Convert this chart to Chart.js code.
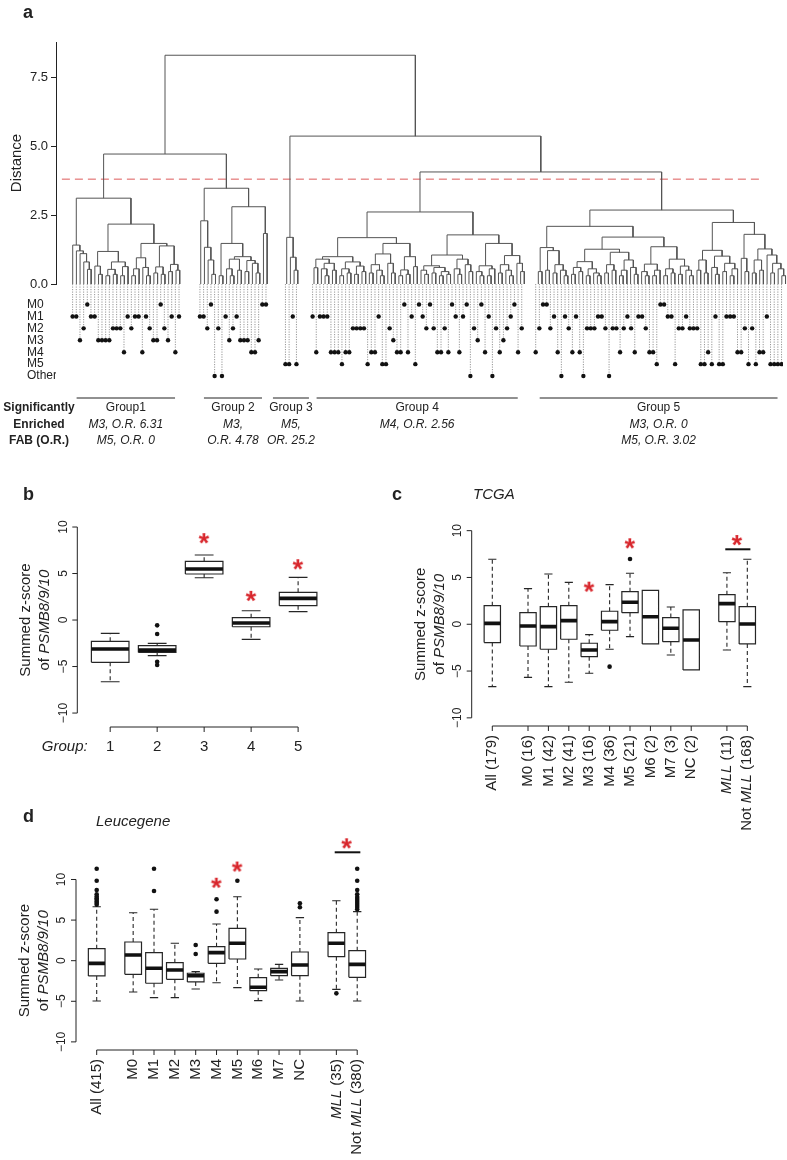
<!DOCTYPE html>
<html>
<head>
<meta charset="utf-8">
<script src="https://cdn.jsdelivr.net/npm/chart.js"></script>
<style>
  html, body { margin: 0; padding: 0; background: #fff; }
  #wrap { position: relative; width: 787px; height: 1160px; overflow: hidden; }
  canvas { position: absolute; }
</style>
</head>
<body>
<div id="wrap">
  <canvas id="dendro" width="787" height="300" style="left:0;top:0"></canvas>
  <canvas id="fab" width="787" height="184" style="left:0;top:276px"></canvas>
  <canvas id="boxB" width="390" height="300" style="left:0;top:470px"></canvas>
  <canvas id="boxC" width="397" height="360" style="left:390px;top:470px"></canvas>
  <canvas id="boxD" width="400" height="370" style="left:0;top:790px"></canvas>
</div>
<script>
// ---------- panel a: clustering ----------
const fabRows = ['M0', 'M1', 'M2', 'M3', 'M4', 'M5', 'Other'];

// FAB class of every leaf, left to right (index into fabRows)
const fabGroup1 = [1,1,3,2,0,1,1,3,3,3,3,2,2,2,4,1,2,1,1,4,1,2,3,3,0,2,3,1,4,1];
const fabGroup2 = [1,1,2,0,6,2,6,1,3,2,1,3,3,3,4,4,3,0,0];
const fabGroup3 = [5,5,1,5];
const fabGroup4 = [1,4,1,1,1,4,4,4,5,4, 4,2,2,2,2,5,4,4,1,5, 5,2,3,4,4,0,4,1,5,0,
                   1,2,0,2,4,4,2,4,0,1, 4,1,0,6,2,3,0,4,1,6, 2,4,3,2,1,0,4,2];
const fabGroup5 = [4,2,0,0,2,1,4,6,1,2, 4,1,4,6,2,2,2,1,1,2, 6,2,2,4,2,1,2,4,1,1,
                   2,4,4,5,0,0,1,1,5,2, 2,1,2,2,2,5,5,4,5,1, 5,5,1,1,1,4,4,2,5,2,
                   5,4,4,1,5,5,5,5];

// merges inside each group: [height, left, right], numbers are leaf indices
const treeGroup1 = [3.11,
  [1.41, 0, [1.2, 1, [1.1, 2, [0.8, 3, [0.53, 4, 5]]]]],
  [2.17,
    [1.18, [0.65, 6, [0.35, 7, 8]], [0.8, [0.53, [0.3, 9, 10], [0.35, 11, 12]], [0.63, [0.3, 13, 14], 15]]],
    [1.47, [0.95, [0.55, [0.3, 16, 17], 18], [0.6, 19, [0.3, 20, 21]]],
           [1.38, [0.62, [0.4, 22, 23], [0.35, 24, 25]], [0.71, [0.45, 26, 27], [0.5, 28, 29]]]]]];
const treeGroup2 = [3.47,
  [2.29, 0, [1.33, 1, [0.87, 2, [0.35, 3, 4]]]],
  [2.8,
    [1.47, [0.3, 5, 6], [0.99, [0.9, [0.55, 7, [0.3, 8, 9]], [0.5, 10, 11]],
                               [0.85, [0.45, 12, 13], [0.75, 14, [0.4, 15, 16]]]]],
    [1.83, 17, 18]]];
const treeGroup3 = [1.69, 0, [0.97, 1, [0.5, 2, 3]]];
const treeGroup4 = [2.61,
  [1.68,
    [0.99, [0.9, [0.59, 0, 1], [0.75, [0.55, 2, [0.3, 3, 4]], [0.5, 5, 6]]],
           [0.8, [0.55, [0.3, 7, 8], [0.4, 9, 10]], [0.65, [0.35, 11, 12], [0.45, 13, 14]]]],
    [1.47, [1.09, [0.7, [0.4, 15, 16], [0.5, 17, [0.3, 18, 19]]], [0.75, 20, [0.4, 21, 22]]],
           [0.99, [0.51, [0.3, 23, 24], [0.35, 25, 26]], [0.63, 27, 28]]]],
  [1.78,
    [1.05, [0.66, [0.5, 29, [0.35, 30, 31]], [0.6, [0.4, 32, 33], [0.45, [0.3, 34, 35], [0.35, 36, 37]]]],
           [0.9, [0.55, 38, [0.35, 39, 40]], [0.7, 41, [0.45, 42, 43]]]],
    [1.47, [0.66, [0.45, 44, [0.3, 45, 46]], [0.55, [0.3, 47, 48], 49]],
           [1.03, [0.7, [0.4, 50, 51], [0.5, 52, [0.3, 53, 54]]], [0.75, 55, [0.45, 56, 57]]]]]];
const treeGroup5 = [2.68,
  [2.09,
    [1.32, [0.45, 0, 1], [1.21, [0.5, 2, 3], [0.7, [0.4, 4, 5], [0.5, 6, [0.3, 7, 8]]]]],
    [1.7,
      [1.26, [0.81, [0.6, [0.35, 9, 10], [0.45, 11, 12]], [0.55, [0.3, 13, 14], [0.4, 15, [0.3, 16, 17]]]],
             [1.15, [0.7, [0.4, 18, 19], [0.5, 20, 21]], [0.87, [0.5, [0.3, 22, 23], 24], [0.6, 25, [0.35, 26, 27]]]]],
      [1.35, [0.72, [0.45, 28, [0.3, 29, 30]], [0.5, [0.3, 31, 32], 33]],
             [0.9, [0.55, [0.3, 34, 35], [0.4, 36, 37]], [0.65, [0.35, 38, 39], [0.5, 40, [0.3, 41, 42]]]]]]],
  [2.23,
    [1.22, [0.87, [0.5, 43, 44], [0.4, 45, 46]],
           [1.01, [0.6, 47, [0.35, 48, 49]], [0.75, [0.45, 50, 51], [0.55, [0.3, 52, 53], 54]]]],
    [1.8, [0.93, 55, [0.45, 56, 57]],
          [1.27, [0.87, [0.4, 58, 59], [0.5, 60, 61]], [1.05, 62, [0.75, [0.4, 63, 64], [0.55, 65, [0.3, 66, 67]]]]]]]];

// merges between the five groups (numbers are group indices)
const groupMerges = [8.29, [4.71, 0, 1], [5.36, 2, [4.06, 3, 4]]];
const cutHeight = 3.8;
const distTicks = [0, 2.5, 5, 7.5];

const groupNames = ['Group1', 'Group 2', 'Group 3', 'Group 4', 'Group 5'];
const groupOR1 = ['M3, O.R. 6.31', 'M3,', 'M5,', 'M4, O.R. 2.56', 'M3, O.R. 0'];
const groupOR2 = ['M5, O.R. 0', 'O.R. 4.78', 'OR. 25.2', '', 'M5, O.R. 3.02'];

// ---------- panel b: groups ----------
const catsB = ['1', '2', '3', '4', '5'];
const loB  = [-6.63, -3.83, 4.55, -2.08, 0.9];
const q1B  = [-4.55, -3.48, 4.95, -0.72, 1.54];
const medB = [-3.12, -3.23, 5.48, -0.32, 2.33];
const q3B  = [-2.29, -2.76, 6.31, 0.25, 2.98];
const hiB  = [-1.43, -2.51, 6.99, 1.0, 4.59];
const outB = [[], [-0.57, -1.5, -4.48, -4.84], [], [], []];
const starsB = [{cat: 2, y: 8.8}, {cat: 3, y: 2.6}, {cat: 4, y: 6.0}];

// ---------- panel c: TCGA ----------
const catsC = ['All (179)', 'M0 (16)', 'M1 (42)', 'M2 (41)', 'M3 (16)', 'M4 (36)', 'M5 (21)',
               'M6 (2)', 'M7 (3)', 'NC (2)', '_MLL_ (11)', 'Not _MLL_ (168)'];
const loC  = [-6.66, -5.67, -6.66, -6.2, -5.24, -2.67, -1.32, -2.1, -3.28, -4.88, -2.75, -6.66];
const q1C  = [-1.96, -2.32, -2.67, -1.6, -3.46, -0.64, 1.24, -2.1, -1.86, -4.88, 0.28, -2.1];
const medC = [0.1, -0.18, -0.25, 0.39, -2.75, 0.28, 2.35, 0.81, -0.43, -1.68, 2.2, 0.03];
const q3C  = [1.99, 1.24, 1.88, 1.99, -2.03, 1.39, 3.48, 3.63, 0.71, 1.53, 3.16, 1.88];
const hiC  = [6.94, 3.81, 5.37, 4.48, -1.11, 4.23, 5.45, 3.63, 1.85, 1.53, 5.51, 6.94];
const outC = [[], [], [], [], [], [-4.53], [6.98], [], [], [], [], []];
const starsC = [{cat: 4, y: 4.02}, {cat: 6, y: 8.65}];
const pairC = {from: 10, to: 11, star: 9.0, bar: 8.01};

// ---------- panel d: Leucegene ----------
const catsD = ['All (415)', 'M0', 'M1', 'M2', 'M3', 'M4', 'M5', 'M6', 'M7', 'NC', '_MLL_ (35)', 'Not _MLL_ (380)'];
const loD  = [-4.96, -3.85, -4.55, -4.55, -3.49, -2.71, -3.32, -4.92, -2.38, -4.96, -3.53, -4.96];
const q1D  = [-1.88, -1.68, -2.78, -2.29, -2.62, -0.33, 0.21, -3.69, -1.85, -1.85, 0.49, -2.05];
const medD = [-0.33, 0.7, -0.94, -1.15, -1.85, 0.99, 2.14, -3.28, -1.35, -0.53, 2.14, -0.45];
const q3D  = [1.48, 2.3, 0.99, -0.25, -1.55, 1.72, 3.99, -2.09, -0.94, 1.07, 3.45, 1.23];
const hiD  = [6.65, 5.91, 6.33, 2.14, -1.35, 4.52, 7.88, -1.02, -0.45, 5.3, 7.39, 6.04];
const outD = [[11.33, 9.85, 8.7, 8.17, 7.9, 7.7, 7.5, 7.3, 7.1, 6.9], [], [11.33, 8.58], [],
              [1.93, 0.83], [7.56, 6.04], [9.85], [], [], [7.07, 6.58], [-4.02],
              [11.33, 9.85, 8.7, 8.17, 7.85, 7.6, 7.35, 7.1, 6.85, 6.6, 6.35]];
const starsD = [{cat: 5, y: 9.6}, {cat: 6, y: 11.6}];
const pairD = {from: 10, to: 11, star: 14.46, bar: 13.35};

const zTicks = [-10, -5, 0, 5, 10];

// ---------- drawing ----------
const FONT = '"Liberation Sans", Arial, Helvetica, sans-serif';
const INK = '#222';
const RED = '#d8262c';
Chart.defaults.font.family = FONT;
Chart.defaults.color = INK;

function line(ctx, x0, y0, x1, y1) {
  ctx.beginPath(); ctx.moveTo(x0, y0); ctx.lineTo(x1, y1); ctx.stroke();
}

// text with _italic_ markup
function text(ctx, str, x, y, o = {}) {
  const size = o.size || 12, weight = o.weight || '', align = o.align || 'left';
  const parts = String(str).split('_').map((t, k) => ({t, it: !!o.italic !== (k % 2 === 1)}));
  const fontOf = p => `${p.it ? 'italic ' : ''}${weight} ${size}px ${FONT}`;
  ctx.save();
  ctx.translate(x, y); ctx.rotate(o.rot || 0);
  ctx.textBaseline = 'middle'; ctx.textAlign = 'left'; ctx.fillStyle = INK;
  let total = 0;
  parts.forEach(p => { ctx.font = fontOf(p); p.w = ctx.measureText(p.t).width; total += p.w; });
  let cx = align === 'right' ? -total : align === 'center' ? -total / 2 : 0;
  parts.forEach(p => { ctx.font = fontOf(p); ctx.fillText(p.t, cx, 0); cx += p.w; });
  ctx.restore();
}

const baseOpts = {responsive: false, animation: false, devicePixelRatio: 1, events: [],
                  plugins: {legend: {display: false}, tooltip: {enabled: false}}};

// leaf coordinates (leaf units), groups separated by gaps
const fabByGroup = [fabGroup1, fabGroup2, fabGroup3, fabGroup4, fabGroup5];
const treeByGroup = [treeGroup1, treeGroup2, treeGroup3, treeGroup4, treeGroup5];
const groupGap = [5.7, 5.3, 4.4, 3.8];
const groupStart = [];
fabByGroup.forEach((g, i) => groupStart.push(i ? groupStart[i - 1] + fabByGroup[i - 1].length - 1 + groupGap[i - 1] : 0));
const X_MIN = -4.53, X_MAX = 193.6;

const dendroPts = [];
function walk(node, leafAt) {
  if (!Array.isArray(node)) return leafAt(node);
  const a = walk(node[1], leafAt), b = walk(node[2], leafAt), h = node[0];
  dendroPts.push({x: a.x, y: a.h}, {x: a.x, y: h}, {x: b.x, y: h}, {x: b.x, y: b.h}, {x: b.x, y: null});
  return {x: (a.x + b.x) / 2, h};
}
walk(groupMerges, g => walk(treeByGroup[g], i => ({x: groupStart[g] + i, h: 0})));

const cutPts = [{x: X_MIN + 1.6, y: cutHeight}, {x: X_MAX - 7.6, y: cutHeight}];

new Chart(document.getElementById('dendro'), {
  type: 'line',
  data: {datasets: [
    {data: dendroPts, borderColor: '#555', borderWidth: 1, pointRadius: 0, spanGaps: false, tension: 0},
    {data: cutPts, borderColor: 'rgba(214,60,60,0.85)', borderWidth: 1, borderDash: [8, 5], pointRadius: 0}
  ]},
  options: {...baseOpts,
    layout: {padding: {left: 0, right: 0, top: 42, bottom: 16}},
    scales: {
      x: {type: 'linear', display: false, min: X_MIN, max: X_MAX},
      y: {type: 'linear', min: 0, max: 8.77,
          afterFit: s => { s.width = 56; },
          afterBuildTicks: s => { s.ticks = distTicks.map(v => ({value: v})); },
          ticks: {callback: v => v.toFixed(1), font: {size: 13}, color: INK, padding: 3},
          grid: {drawOnChartArea: false, color: INK, tickLength: 5},
          border: {color: INK},
          title: {display: true, text: 'Distance', color: INK, font: {size: 15}, padding: {top: 8, bottom: 0}}}
    }
  },
  plugins: [{id: 'letterA', afterDraw(c) { text(c.ctx, 'a', 23, 13, {size: 18, weight: 'bold'}); }}]
});

const FAB_TOP = -1.72;
const fabDots = [], fabStems = [];
fabByGroup.forEach((codes, g) => codes.forEach((code, i) => {
  const x = groupStart[g] + i;
  fabDots.push({x, y: code});
  fabStems.push({x, y: FAB_TOP}, {x, y: code}, {x, y: null});
}));

new Chart(document.getElementById('fab'), {
  type: 'line',
  data: {datasets: [
    {data: fabDots, showLine: false, pointRadius: 2.2, pointBackgroundColor: '#111', pointBorderWidth: 0, order: 0},
    {data: fabStems, borderColor: '#8a8a8a', borderWidth: 0.9, borderDash: [1.2, 1.3], pointRadius: 0, spanGaps: false, order: 1}
  ]},
  options: {...baseOpts,
    layout: {padding: {left: 27, right: 0, top: 8, bottom: 70}},
    scales: {
      x: {type: 'linear', display: false, min: X_MIN, max: X_MAX},
      y: {type: 'linear', reverse: true, min: FAB_TOP, max: 7.17,
          afterFit: s => { s.width = 29; },
          afterBuildTicks: s => { s.ticks = fabRows.map((_, i) => ({value: i})); },
          ticks: {callback: v => fabRows[v], crossAlign: 'far', autoSkip: false, padding: 0, font: {size: 12}, color: INK},
          grid: {display: false}, border: {display: false}}
    }
  },
  plugins: [{id: 'groups', afterDraw(c) {
    const {ctx, scales: {x}} = c;
    ctx.save(); ctx.strokeStyle = INK; ctx.lineWidth = 1;
    fabByGroup.forEach((codes, g) => {
      const x0 = x.getPixelForValue(groupStart[g]), x1 = x.getPixelForValue(groupStart[g] + codes.length - 1);
      const mid = (x0 + x1) / 2, half = Math.max((x1 - x0) / 2 - 4, 18);
      line(ctx, mid - half, 122, mid + half, 122);
      text(ctx, groupNames[g], mid, 132, {size: 12, align: 'center'});
      text(ctx, groupOR1[g], mid, 149, {size: 12, align: 'center', italic: true});
      text(ctx, groupOR2[g], mid, 165, {size: 12, align: 'center', italic: true});
    });
    ['Significantly', 'Enriched', 'FAB (O.R.)'].forEach((t, k) =>
      text(ctx, t, 39, 132 + k * 16.5, {size: 12, weight: 'bold', align: 'center'}));
    ctx.restore();
  }}]
});

// ---------- box plots ----------
const BOX_HALF = 0.4, CAP_HALF = 0.2;
const gappedPos = i => i + 1 + (i >= 1 ? 0.75 : 0) + (i >= 10 ? 0.75 : 0);

function starImage() {
  const c = document.createElement('canvas'); c.width = 18; c.height = 18;
  const g = c.getContext('2d');
  g.fillStyle = RED; g.font = `bold 27px ${FONT}`;
  const m = g.measureText('*');
  g.fillText('*', 9 - (m.actualBoundingBoxRight - m.actualBoundingBoxLeft) / 2,
                  9 + (m.actualBoundingBoxAscent - m.actualBoundingBoxDescent) / 2);
  return c;
}
const STAR = starImage();

function boxChart(id, s) {
  const pos = s.cats.map((_, i) => s.posOf(i));
  const rect = [], whisk = [], caps = [], meds = [], outs = [], stars = [], bars = [];
  s.cats.forEach((_, i) => {
    const p = pos[i], q1 = s.q1[i], q3 = s.q3[i];
    rect.push({x: p - BOX_HALF, y: q1}, {x: p + BOX_HALF, y: q1}, {x: p + BOX_HALF, y: q3},
              {x: p - BOX_HALF, y: q3}, {x: p - BOX_HALF, y: q1}, {x: p, y: null});
    meds.push({x: p - BOX_HALF, y: s.med[i]}, {x: p + BOX_HALF, y: s.med[i]}, {x: p, y: null});
    [[s.hi[i], q3], [s.lo[i], q1]].forEach(([end, edge]) => {
      if (Math.abs(end - edge) < 1e-6) return;
      whisk.push({x: p, y: edge}, {x: p, y: end}, {x: p, y: null});
      caps.push({x: p - CAP_HALF, y: end}, {x: p + CAP_HALF, y: end}, {x: p, y: null});
    });
    s.out[i].forEach(v => outs.push({x: p, y: v}));
  });
  s.stars.forEach(st => stars.push({x: pos[st.cat], y: st.y}));
  if (s.pair) {
    const pr = s.pair;
    stars.push({x: (pos[pr.from] + pos[pr.to]) / 2, y: pr.star});
    bars.push({x: pos[pr.from] - 0.08, y: pr.bar}, {x: pos[pr.to] + 0.15, y: pr.bar});
  }
  const ln = (data, w, extra) => Object.assign({data, borderColor: '#262626', borderWidth: w, pointRadius: 0,
                                                spanGaps: false, tension: 0, clip: false}, extra);
  new Chart(document.getElementById(id), {
    type: 'line',
    data: {datasets: [
      ln(meds, 3.6, {order: 0, borderColor: '#111'}),
      ln(rect, 1.2, {order: 1}),
      ln(caps, 1.1, {order: 2}),
      ln(whisk, 1.1, {order: 3, borderDash: [4, 3]}),
      ln(bars, 2, {order: 0, borderColor: '#111'}),
      {data: outs, showLine: false, pointRadius: 2.3, pointBackgroundColor: '#111', pointBorderWidth: 0, order: 0, clip: false},
      {data: stars, showLine: false, pointStyle: STAR, pointRadius: 6, order: 0, clip: false}
    ]},
    options: {...baseOpts,
      layout: {padding: s.pad},
      scales: {
        x: {type: 'linear', display: false, min: s.x[0], max: s.x[1]},
        y: {type: 'linear', display: false, min: s.y[0], max: s.y[1]}
      }
    },
    plugins: [{id: 'rAxes', afterDraw(chart) {
      const {ctx, chartArea: a, scales: {x, y}} = chart;
      ctx.save(); ctx.strokeStyle = INK; ctx.lineWidth = 1;
      const yp = zTicks.map(v => y.getPixelForValue(v));
      line(ctx, a.left, yp[0], a.left, yp[yp.length - 1]);
      zTicks.forEach((v, k) => {
        line(ctx, a.left - 5, yp[k], a.left, yp[k]);
        text(ctx, v < 0 ? '\u2212' + (-v) : String(v), a.left - 14, yp[k], {size: 12, rot: -Math.PI / 2, align: 'center'});
      });
      const xp = pos.map(v => x.getPixelForValue(v));
      line(ctx, xp[0], a.bottom, xp[xp.length - 1], a.bottom);
      s.cats.forEach((c, k) => {
        line(ctx, xp[k], a.bottom, xp[k], a.bottom + 5);
        if (s.rotate) text(ctx, c, xp[k], a.bottom + 9, {size: 15, rot: -Math.PI / 2, align: 'right'});
        else text(ctx, c, xp[k], a.bottom + 20, {size: 15, align: 'center'});
      });
      const y0 = y.getPixelForValue(0);
      text(ctx, 'Summed z-score', a.left - 51, y0, {size: 15, rot: -Math.PI / 2, align: 'center'});
      text(ctx, 'of _PSMB8/9/10_', a.left - 32, y0, {size: 15, rot: -Math.PI / 2, align: 'center'});
      s.notes.forEach(n => text(ctx, n.t, n.x, n.y, n));
      ctx.restore();
    }}]
  });
}

boxChart('boxB', {
  cats: catsB, lo: loB, q1: q1B, med: medB, q3: q3B, hi: hiB, out: outB, stars: starsB, pair: null,
  posOf: i => i + 1, rotate: false,
  x: [0.3, 5.7], y: [-11.5, 11.83], pad: {left: 77.3, top: 40, right: 59, bottom: 43},
  notes: [{t: 'b', x: 23, y: 25, size: 18, weight: 'bold'},
          {t: 'Group:', x: 87.7, y: 277, size: 15, italic: true, align: 'right'}]
});

boxChart('boxC', {
  cats: catsC, lo: loC, q1: q1C, med: medC, q3: q3C, hi: hiC, out: outC, stars: starsC, pair: pairC,
  posOf: gappedPos, rotate: true,
  x: [-0.01, 14.2], y: [-10.87, 11.14], pad: {left: 81.7, top: 50, right: 25.4, bottom: 104},
  notes: [{t: 'c', x: 2, y: 25, size: 18, weight: 'bold'},
          {t: 'TCGA', x: 83, y: 25, size: 15, italic: true}]
});

boxChart('boxD', {
  cats: catsD, lo: loD, q1: q1D, med: medD, q3: q3D, hi: hiD, out: outD, stars: starsD, pair: pairD,
  posOf: gappedPos, rotate: true,
  x: [0.007, 14.2], y: [-11.0, 15.48], pad: {left: 76, top: 45, right: 28.2, bottom: 110},
  notes: [{t: 'd', x: 23, y: 27, size: 18, weight: 'bold'},
          {t: 'Leucegene', x: 96, y: 32, size: 15, italic: true}]
});
</script>
</body>
</html>
